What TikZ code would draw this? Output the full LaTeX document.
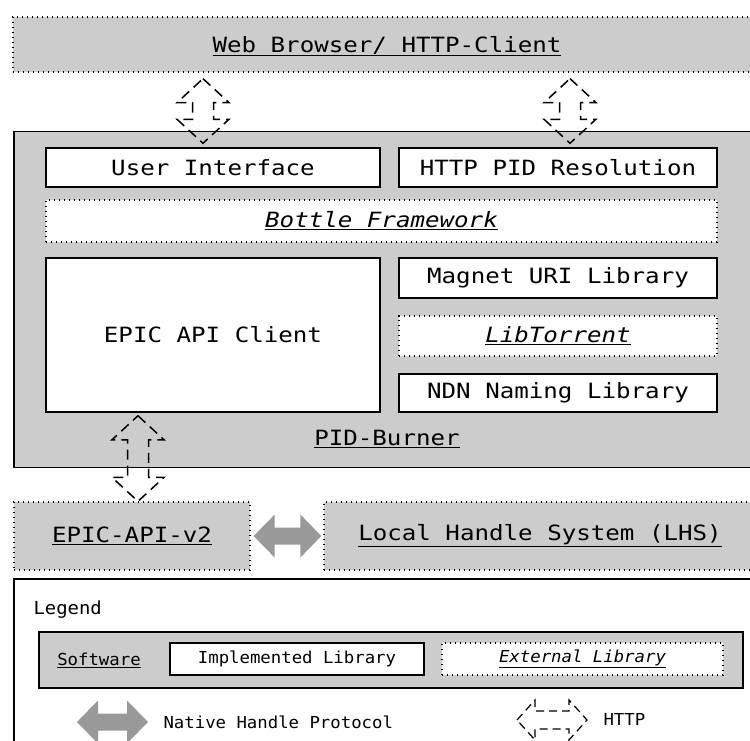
\documentclass[tikz,border=0pt]{standalone}
\usepackage{fontspec}
\setmainfont[FakeStretch=1.15]{DejaVu Sans Mono}
\setmonofont[FakeStretch=1.15]{DejaVu Sans Mono}
\newfontfamily\legendmono[FakeStretch=1.05]{DejaVu Sans Mono}
\usetikzlibrary{calc}
\definecolor{boxgray}{HTML}{CCCCCC}
\definecolor{arrgray}{HTML}{999999}
\tikzset{
  big/.style={font=\fontsize{21}{25}\selectfont},
  small/.style={font=\legendmono\fontsize{16.5}{19}\selectfont},
  dots/.style={line width=1.3pt, dash pattern=on 1.3pt off 3.7pt},
  swbox/.style={draw, fill=boxgray, line width=1.8pt, inner sep=0pt},
  extsw/.style={draw, fill=boxgray, dots, inner sep=0pt},
  implib/.style={draw, fill=white, line width=1.5pt, inner sep=0pt},
  extlib/.style={draw, fill=white, dots, inner sep=0pt},
  httpline/.style={draw, line width=1.5pt, dash pattern=on 10pt off 6pt},
  nativearrow/.style={fill=arrgray, draw=none},
}
% vertical hollow dashed double arrow between two points
\newcommand\httpV[2]{%
  \path[httpline] let \p1=#1, \p2=#2 in
    (\x1,\y1) -- (\x1+26pt,\y1-24pt) -- (\x1+10.5pt,\y1-24pt) -- (\x1+10.5pt,\y2+24pt)
    -- (\x1+26pt,\y2+24pt) -- (\x1,\y2) -- (\x1-26pt,\y2+24pt) -- (\x1-10.5pt,\y2+24pt)
    -- (\x1-10.5pt,\y1-24pt) -- (\x1-26pt,\y1-24pt) -- cycle;}
% horizontal hollow dashed double arrow
\newcommand\httpH[2]{%
  \path[httpline, line width=1.2pt, dash pattern=on 8pt off 5pt] let \p1=#1, \p2=#2 in
    (\x1,\y1) -- (\x1+18pt,\y1+20pt) -- (\x1+18pt,\y1+9pt) -- (\x2-18pt,\y1+9pt)
    -- (\x2-18pt,\y1+20pt) -- (\x2,\y1) -- (\x2-18pt,\y1-20pt) -- (\x2-18pt,\y1-9pt)
    -- (\x1+18pt,\y1-9pt) -- (\x1+18pt,\y1-20pt) -- cycle;}
% horizontal solid grey double arrow
\newcommand\nativeH[2]{%
  \path[nativearrow] let \p1=#1, \p2=#2 in
    (\x1,\y1) -- (\x1+21pt,\y1+21.5pt) -- (\x1+21pt,\y1+8.5pt) -- (\x2-21pt,\y1+8.5pt)
    -- (\x2-21pt,\y1+21.5pt) -- (\x2,\y1) -- (\x2-21pt,\y1-21.5pt) -- (\x2-21pt,\y1-8.5pt)
    -- (\x1+21pt,\y1-8.5pt) -- (\x1+21pt,\y1-21.5pt) -- cycle;}
\begin{document}
\begin{tikzpicture}[x=1pt,y=-1pt]
\useasboundingbox (0,0) rectangle (750,740);
\clip (0,0) rectangle (750,740);

% Web browser
\node[extsw, minimum width=790pt, minimum height=55pt] (web) at (408,44.5) {};
\node[big] (weblabel) at (387,46) {\underline{Web Browser/ HTTP-Client}};

% PID-Burner
\node[swbox, minimum width=790pt, minimum height=336pt] (pid) at (409,299.5) {};
\node[big] (pidlabel) at (387,439) {\underline{PID-Burner}};

\node[implib, big, minimum width=334pt, minimum height=39pt] (ui) at (213,167.5) {User Interface};
\node[implib, big, minimum width=318pt, minimum height=39pt] (res) at (558,167.5) {HTTP PID Resolution};
\node[extlib, big, minimum width=671pt, minimum height=42pt] (bottle) at (381.5,221) {\underline{\itshape Bottle Framework}};
\node[implib, big, minimum width=334pt, minimum height=154pt] (client) at (213,335) {EPIC API Client};
\node[implib, big, minimum width=318pt, minimum height=40pt] (magnet) at (558,278) {Magnet URI Library};
\node[extlib, big, minimum width=318pt, minimum height=40pt] (torrent) at (558,336) {\underline{\itshape LibTorrent}};
\node[implib, big, minimum width=318pt, minimum height=38pt] (ndn) at (558,393) {NDN Naming Library};

% lower systems
\node[extsw, minimum width=236pt, minimum height=68pt] (epic) at (132,536) {};
\node[big] at (epic.center) {\underline{EPIC-API-v2}};
\node[extsw, minimum width=450pt, minimum height=68pt] (lhs) at (549,536) {};
\node[big] at (540,536) {\underline{Local Handle System (LHS)}};

% connectors
\httpV{([xshift=-10pt,yshift=-6pt]ui.north |- web.south)}{([xshift=-10pt,yshift=4pt]ui.north)}
\httpV{([xshift=12pt,yshift=-6pt]res.north |- web.south)}{([xshift=12pt,yshift=4pt]res.north)}
\httpV{([xshift=-75pt,yshift=-3pt]client.south)}{(epic.north)}
\nativeH{([xshift=3pt]epic.east)}{([xshift=-2pt]lhs.west)}

% Legend
\node[draw, fill=white, line width=1.5pt, minimum width=760pt, minimum height=180pt, inner sep=0pt] (legend) at (394,669) {};
\node[font=\legendmono\fontsize{18}{21}\selectfont, anchor=west] (legtitle) at (30,610) {Legend};
\node[swbox, line width=1.5pt, minimum width=704pt, minimum height=56pt] (legsw) at (391,660) {};
\node[small] (swlabel) at (99,660) {\underline{Software}};
\node[implib, small, minimum width=254pt, minimum height=32pt] (legimp) at (297,659) {Implemented Library};
\node[extlib, small, minimum width=281pt, minimum height=32pt] (legext) at (582.5,659) {\underline{\itshape External Library}};
\coordinate (nl) at (77,722);
\coordinate (nr) at (148,722);
\nativeH{(nl)}{(nr)}
\node[small, anchor=west] (nlabel) at (160,722) {Native Handle Protocol};
\coordinate (hl) at (517,720);
\coordinate (hr) at (587,720);
\httpH{(hl)}{(hr)}
\node[small, anchor=west] (hlabel) at (600,719) {HTTP};
\end{tikzpicture}
\end{document}
